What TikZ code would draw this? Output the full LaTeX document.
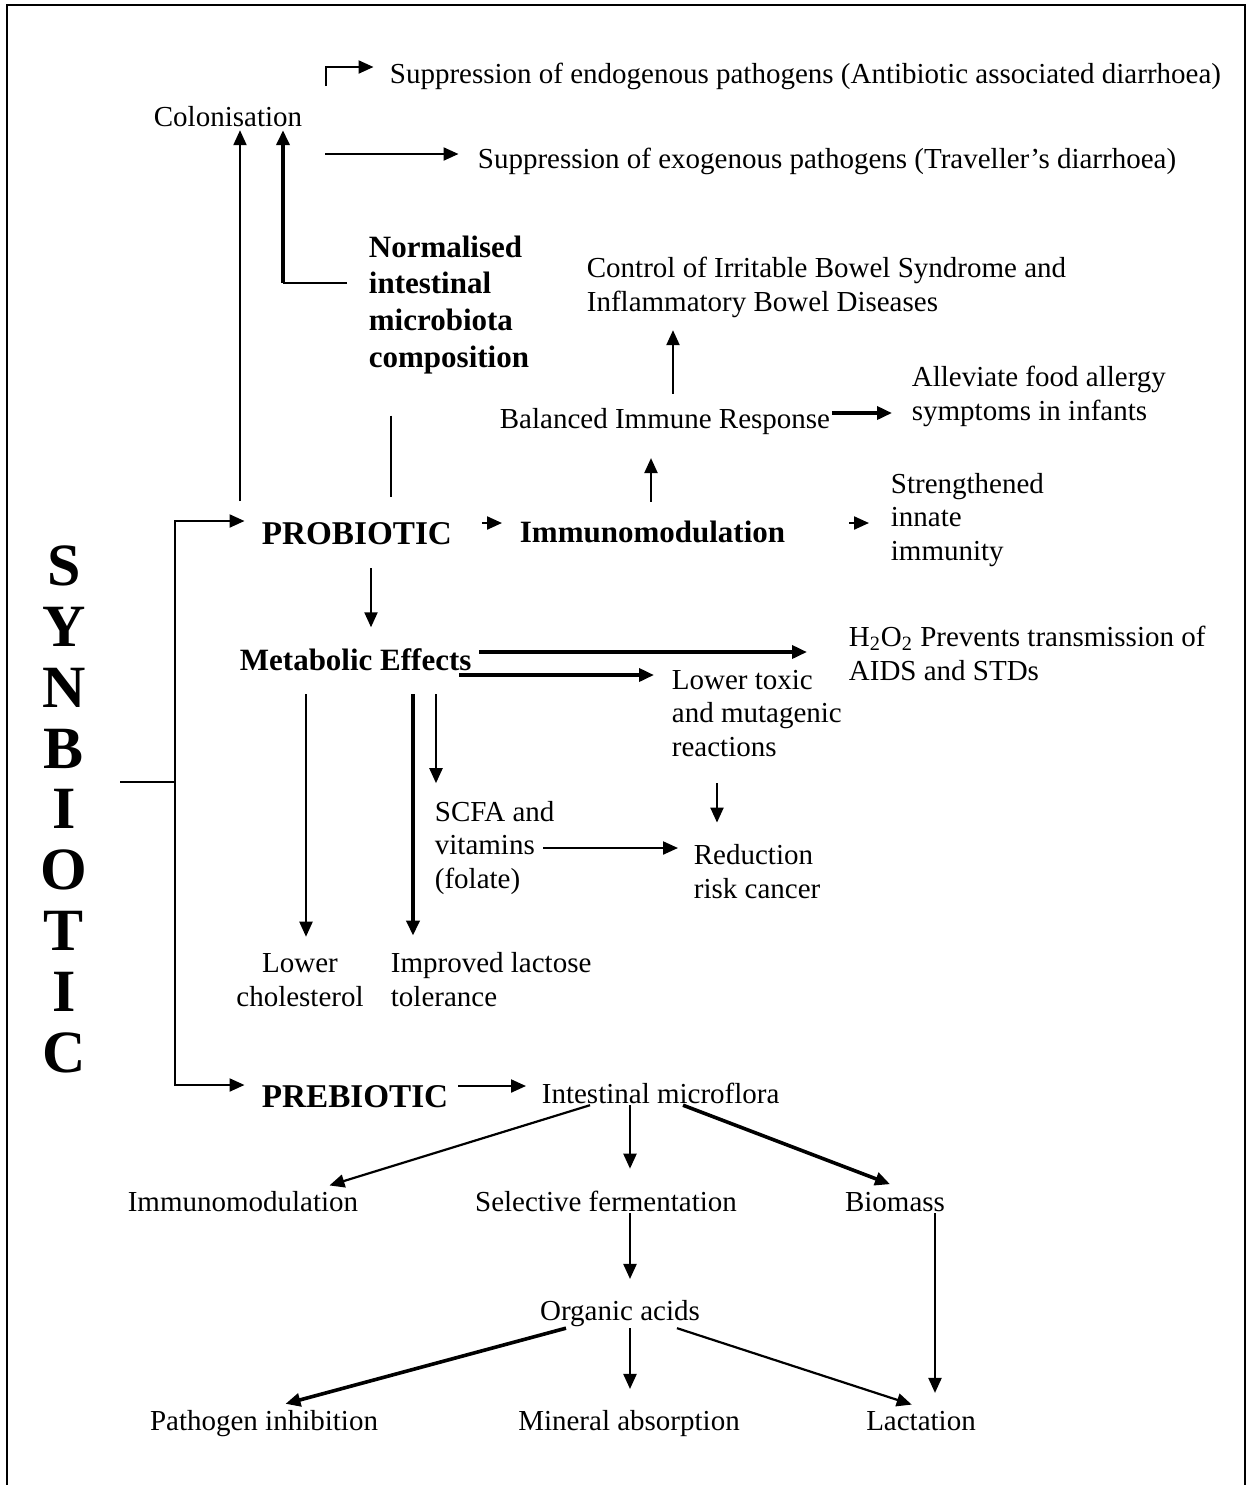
\documentclass[tikz,border=0pt]{standalone}
\usepackage{fontspec}
\setmainfont{Liberation Serif}
\usetikzlibrary{arrows.meta}

\tikzset{
  lbl/.style={inner sep=0.75pt, align=left, font=\fontsize{14.5}{16.7}\selectfont},
  blbl/.style={inner sep=0.75pt, align=left, font=\fontsize{15.5}{18.3}\selectfont\bfseries},
  capbl/.style={blbl, font=\fontsize{16.6}{18}\selectfont\bfseries},
  arr/.style={line width=1.1pt, -{Triangle[length=7.5pt,width=6.5pt]}},
  thickarr/.style={arr, line width=1.8pt},
}

\begin{document}
\begin{tikzpicture}[x=0.5pt,y=0.5pt,yscale=-1,xscale=1]
\useasboundingbox (0,0) rectangle (1247,1485);
%Shape: Frame
\draw [line width=1.2pt] (7,1485) -- (7,5) -- (1245,5) -- (1245,1485) ;

% Text Node
\node (syn) [anchor=base, inner sep=0.75pt, align=center, font=\fontsize{30}{30.4}\selectfont\bfseries] at (64,1072) {S\\Y\\N\\B\\I\\O\\T\\I\\C};
% Text Node
\node (supendo) [lbl, anchor=base west] at (388,83) {Suppression of endogenous pathogens (Antibiotic associated diarrhoea)};
% Text Node
\node (colon) [lbl, anchor=base west] at (152,126) {Colonisation};
% Text Node
\node (supexo) [lbl, anchor=base west] at (476,168) {Suppression of exogenous pathogens (Traveller’s diarrhoea)};
% Text Node
\node (norm) [blbl, anchor=base west] at (367,367) {Normalised\\intestinal\\microbiota\\composition};
% Text Node
\node (ctrl) [lbl, anchor=base west] at (585,311) {Control of Irritable Bowel Syndrome and\\Inflammatory Bowel Diseases};
% Text Node
\node (allev) [lbl, anchor=base west] at (910,420) {Alleviate food allergy\\symptoms in infants};
% Text Node
\node (bal) [lbl, anchor=base west] at (498,428) {Balanced Immune Response};
% Text Node
\node (streng) [lbl, anchor=base west] at (889,560) {Strengthened\\innate\\immunity};
% Text Node
\node (pro) [capbl, anchor=base west] at (260,544) {PROBIOTIC};
% Text Node
\node (immb) [blbl, anchor=base west] at (518,542) {Immunomodulation};
% Text Node
\node (meta) [blbl, anchor=base west] at (238,670) {Metabolic Effects};
% Text Node
\node (htwo) [lbl, anchor=base west] at (847,680) {H\textsubscript{2}O\textsubscript{2} Prevents transmission of\\AIDS and STDs};
% Text Node
\node (toxic) [lbl, anchor=base west] at (670,756) {Lower toxic\\and mutagenic\\reactions};
% Text Node
\node (scfa) [lbl, anchor=base west] at (433,888) {SCFA and\\vitamins\\(folate)};
% Text Node
\node (reduc) [lbl, anchor=base west] at (692,898) {Reduction\\risk cancer};
% Text Node
\node (chol) [lbl, align=center, anchor=base] at (300,1006) {Lower\\cholesterol};
% Text Node
\node (lact) [lbl, anchor=base west] at (389,1006) {Improved lactose\\tolerance};
% Text Node
\node (pre) [capbl, anchor=base west] at (260,1107) {PREBIOTIC};
% Text Node
\node (micro) [lbl, anchor=base west] at (540,1103) {Intestinal microflora};
% Text Node
\node (immp) [lbl, anchor=base] at (243,1211) {Immunomodulation};
% Text Node
\node (selfer) [lbl, anchor=base] at (606,1211) {Selective fermentation};
% Text Node
\node (bio) [lbl, anchor=base] at (895,1211) {Biomass};
% Text Node
\node (org) [lbl, anchor=base] at (620,1320) {Organic acids};
% Text Node
\node (path) [lbl, anchor=base] at (264,1430) {Pathogen inhibition};
% Text Node
\node (mineral) [lbl, anchor=base] at (629,1430) {Mineral absorption};
% Text Node
\node (lacta) [lbl, anchor=base] at (921,1430) {Lactation};

%Straight Lines
\coordinate (split) at (175,782);
\draw [line width=1.1pt, shorten <=15.5pt] (syn.east |- split) -- (split) ;
\draw [arr, shorten >=7.75pt] (split) |- (pro.west |- 0,521) ;
\draw [arr, shorten >=7.75pt] (split) |- (pre.west |- 0,1085) ;
%Straight Lines
\coordinate (endoStart) at (326,86);
\draw [arr, shorten >=7.25pt] (endoStart) |- (supendo.west |- 0,67) ;
\coordinate (exoStart) at (325,154);
\draw [arr, shorten >=8.75pt] (exoStart) -- (supexo.west |- exoStart) ;
%Straight Lines
\draw [arr, shorten <=9.5pt, shorten >=1pt] (pro.north -| 240,0) -- (colon.south -| 240,0) ;
\coordinate (normTurn) at (283,283);
\draw [line width=1.1pt, shorten <=10pt] (norm.west |- normTurn) -- (normTurn) ;
\draw [thickarr, shorten >=1pt] (normTurn) -- (colon.south -| normTurn) ;
\draw [line width=1.1pt, shorten <=20pt, shorten >=11.5pt] (norm.south -| 391,0) -- (pro.north -| 391,0) ;
%Straight Lines
\draw [arr, shorten <=8.5pt, shorten >=11pt] (immb.north -| 651,0) -- (bal.south -| 651,0) ;
\draw [arr, shorten <=6pt, shorten >=5.5pt] (bal.north -| 673,0) -- (ctrl.south -| 673,0) ;
\draw [thickarr, shorten >=9pt] (bal.east |- 0,413) -- (allev.west |- 0,413) ;
\draw [arr, shorten <=14pt, shorten >=8pt] (pro.east |- 0,523) -- (immb.west |- 0,523) ;
\draw [arr, shorten <=31pt, shorten >=10pt] (immb.east |- 0,523) -- (streng.west |- 0,523) ;
%Straight Lines
\draw [arr, shorten <=11pt, shorten >=9.5pt] (pro.south -| 371,0) -- (meta.north -| 371,0) ;
\draw [thickarr, shorten <=3pt, shorten >=20pt] (meta.east |- 0,652) -- (htwo.west |- 0,652) ;
\draw [thickarr, shorten <=-7pt, shorten >=8pt] (meta.east |- 0,675) -- (toxic.west |- 0,675) ;
\draw [arr, shorten <=11pt, shorten >=7.5pt] (meta.south -| 306,0) -- (chol.north -| 306,0) ;
\draw [thickarr, shorten <=11pt, shorten >=7.5pt] (meta.south -| 413,0) -- (lact.north -| 413,0) ;
\draw [arr, shorten <=11pt, shorten >=8pt] (meta.south -| 436,0) -- (scfa.north -| 436,0) ;
\draw [arr, shorten <=12.5pt, shorten >=10pt] (toxic.south -| 717,0) -- (reduc.north -| 717,0) ;
\draw [arr, shorten <=-6.5pt, shorten >=7pt] (scfa.east |- 0,848) -- (reduc.west |- 0,848) ;
%Straight Lines
\draw [arr, shorten <=4pt, shorten >=7pt] (pre.east |- 0,1086) -- (micro.west |- 0,1086) ;
\draw [arr, shorten >=6pt] (micro.south -| 590,0) -- (immp.north -| 318,0) ;
\draw [arr, shorten >=10pt] (micro.south -| 630,0) -- (selfer.north -| 630,0) ;
\draw [thickarr, shorten >=8pt] (micro.south -| 683,0) -- (bio.north -| 905,0) ;
\draw [arr, shorten >=9.5pt] (selfer.south -| 630,0) -- (org.north -| 630,0) ;
\draw [arr, shorten >=8pt] (bio.south -| 935,0) -- (lacta.north -| 935,0) ;
\draw [thickarr, shorten >=8pt] (org.south -| 566,0) -- (path.north -| 270,0) ;
\draw [arr, shorten >=9.5pt] (org.south -| 630,0) -- (mineral.north -| 630,0) ;
\draw [arr, shorten >=7pt] (org.south -| 677,0) -- (lacta.north -| 925,0) ;

\end{tikzpicture}
\end{document}
